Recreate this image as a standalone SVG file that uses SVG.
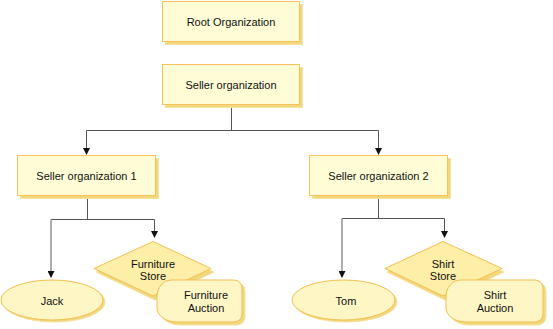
<svg xmlns="http://www.w3.org/2000/svg" width="553" height="329" viewBox="0 0 553 329">
<defs>
<style>
.box{fill:#fffdd6;stroke:#f7c25c;stroke-width:1}
.shd{fill:#f2d77c;stroke:#f5e39e;stroke-width:1}
.ell{fill:#fff6c6;stroke:#f3bf4e;stroke-width:1}
.dia{fill:#fdeea8;stroke:#f3bf4e;stroke-width:1}
.t{font-family:"Liberation Sans",Arial,sans-serif;font-size:11px;fill:#111;text-anchor:middle;dominant-baseline:central}
.c{fill:none;stroke:#555;stroke-width:1}
.cg{fill:none;stroke:#999;stroke-width:1.6}
</style>
<marker id="ah" markerWidth="7" markerHeight="7" refX="6" refY="3.5" orient="auto" markerUnits="userSpaceOnUse">
<path d="M0,0 L7,3.5 L0,7 Z" fill="#111"/>
</marker>
</defs>
<rect width="553" height="329" fill="#fff"/>
<g id="connectors">
<path class="c" d="M231.5,104 V130.5"/>
<path class="c" d="M86.5,130.5 H378.5"/>
<path class="c" d="M86.5,130.5 V154" marker-end="url(#ah)"/>
<path class="c" d="M378.5,130.5 V154" marker-end="url(#ah)"/>
<path class="c" d="M87.5,195 V219.5 M51,219.5 H154.5"/>
<path class="cg" d="M51,219.5 V277" marker-end="url(#ah)"/>
<path class="c" d="M154.5,219.5 V237" marker-end="url(#ah)"/>
<path class="c" d="M378.5,195 V218.5 M342,218.5 H444.5"/>
<path class="cg" d="M342,218.5 V277" marker-end="url(#ah)"/>
<path class="c" d="M444.5,218.5 V237" marker-end="url(#ah)"/>
</g>
<g id="root">
<rect class="shd" x="165.5" y="4.5" width="137" height="40"/>
<rect class="box" x="162.5" y="1.5" width="137" height="40"/>
<text class="t" x="231" y="21.5">Root Organization</text>
</g>
<g id="seller">
<rect class="shd" x="165.5" y="67.5" width="137" height="40"/>
<rect class="box" x="162.5" y="64.5" width="137" height="40"/>
<text class="t" x="231" y="84.5">Seller organization</text>
</g>
<g id="seller1">
<rect class="shd" x="20.5" y="158.5" width="138" height="40"/>
<rect class="box" x="17.5" y="155.5" width="138" height="40"/>
<text class="t" x="86.5" y="175.5">Seller organization 1</text>
</g>
<g id="seller2">
<rect class="shd" x="312.5" y="158.5" width="138" height="40"/>
<rect class="box" x="309.5" y="155.5" width="138" height="40"/>
<text class="t" x="378.5" y="175.5">Seller organization 2</text>
</g>
<g id="jack">
<ellipse class="shd" cx="54" cy="302" rx="51" ry="20"/>
<ellipse class="ell" cx="52" cy="300" rx="51" ry="20"/>
<text class="t" x="52" y="300.5">Jack</text>
</g>
<g id="furniture-store">
<polygon class="shd" points="96,272 155,245 214,272 155,300"/>
<polygon class="dia" points="94,268.5 153,241.5 211,268.5 153,296"/>
<text class="t" x="153" y="263.5">Furniture</text>
<text class="t" x="153" y="275.5">Store</text>
</g>
<g id="furniture-auction">
<path class="shd" d="M174,283 H237 A8,8 0 0 1 245,291 V317 A8,8 0 0 1 237,325 H180 A20,14 0 0 1 160,311 V300 A14,17 0 0 1 174,283 Z"/>
<path class="dia" style="fill:#fff6c6" d="M171,280 H234 A8,8 0 0 1 242,288 V314 A8,8 0 0 1 234,322 H177 A20,14 0 0 1 157,308 V297 A14,17 0 0 1 171,280 Z"/>
<text class="t" x="206" y="295">Furniture</text>
<text class="t" x="206" y="308">Auction</text>
</g>
<g id="tom">
<ellipse class="shd" cx="345.5" cy="302" rx="51.5" ry="20"/>
<ellipse class="ell" cx="343.5" cy="300" rx="51.5" ry="20"/>
<text class="t" x="346" y="300.5">Tom</text>
</g>
<g id="shirt-store">
<polygon class="shd" points="387,272 445,245 504,272 445,300"/>
<polygon class="dia" points="385,268.5 443,241.5 502,268.5 443,296"/>
<text class="t" x="443" y="263.5">Shirt</text>
<text class="t" x="443" y="275.5">Store</text>
</g>
<g id="shirt-auction">
<path class="shd" d="M463,283 H538 A8,8 0 0 1 546,291 V317 A8,8 0 0 1 538,325 H469 A20,14 0 0 1 449,311 V300 A14,17 0 0 1 463,283 Z"/>
<path class="dia" style="fill:#fff6c6" d="M460,280 H535 A8,8 0 0 1 543,288 V314 A8,8 0 0 1 535,322 H466 A20,14 0 0 1 446,308 V297 A14,17 0 0 1 460,280 Z"/>
<text class="t" x="495" y="295">Shirt</text>
<text class="t" x="495" y="308">Auction</text>
</g>
</svg>
